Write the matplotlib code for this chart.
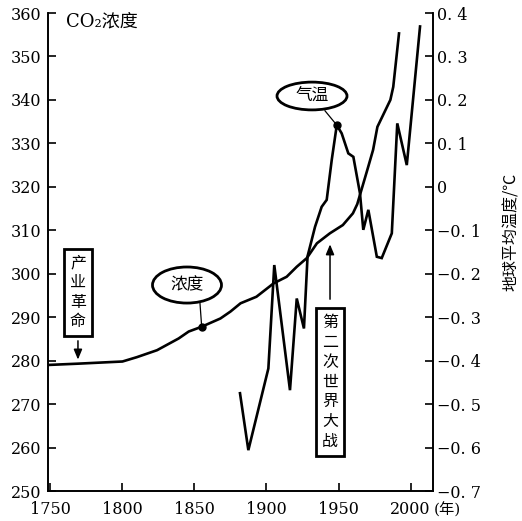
import numpy as np
import matplotlib
matplotlib.use('Agg')
import matplotlib.pyplot as plt
from matplotlib.patches import Ellipse

# CO2 concentration (ppm)
co2_year = [1748, 1769, 1800, 1810, 1824, 1839, 1846, 1855, 1868, 1875, 1882, 1893,
            1905, 1914, 1921, 1928, 1935, 1944, 1953, 1960, 1963, 1970, 1974, 1977,
            1986, 1988, 1992]
co2_ppm = [279.0, 279.3, 279.8, 280.8, 282.4, 285.1, 286.7, 287.8, 289.7, 291.3, 293.2, 294.7,
           297.8, 299.3, 301.6, 303.6, 307.0, 309.3, 311.2, 313.9, 316.0, 323.9, 328.5, 333.8,
           340.0, 343.0, 355.3]

# global mean temperature anomaly (deg C)
temp_year = [1881.6, 1887.4, 1901.3, 1905.4, 1916.3, 1921.0, 1926.0, 1928.5, 1933.7, 1938.3,
             1941.8, 1945.3, 1948.8, 1952.2, 1956.8, 1960.3, 1964.9, 1967.2, 1970.7, 1976.6,
             1980.0, 1987.0, 1990.8, 1997.4, 2006.6]
temp_c = [-0.475, -0.606, -0.418, -0.18, -0.468, -0.257, -0.326, -0.16, -0.092, -0.046,
          -0.03, 0.062, 0.142, 0.123, 0.077, 0.069, -0.015, -0.099, -0.053, -0.161,
          -0.164, -0.107, 0.146, 0.05, 0.369]

x_ticks = [1750, 1800, 1850, 1900, 1950, 2000]
co2_ticks = list(range(250, 361, 10))
temp_ticks = [-0.7, -0.6, -0.5, -0.4, -0.3, -0.2, -0.1, 0.0, 0.1, 0.2, 0.3, 0.4]

NUM_FONT = 'DejaVu Serif'
CJK = ['DejaVu Serif', 'Noto Sans CJK SC']


def temp_label(v):
    if abs(v) < 1e-9:
        return '0'
    s = f'{abs(v):.1f}'.replace('.', '. ')
    return ('\u2212' if v < 0 else '') + s


fig = plt.figure(figsize=(5.22, 5.21), dpi=100)
ax = fig.add_axes([48 / 522, 1 - 491 / 521, (433 - 48) / 522, (491 - 13) / 521])
ax2 = ax.twinx()

lw = 1.9
ax.plot(co2_year, co2_ppm, color='k', lw=lw, solid_joinstyle='round')
ax2.plot(temp_year, temp_c, color='k', lw=lw, solid_joinstyle='miter')

ax.set_xlim(1748.3, 2015.6)
ax.set_ylim(250, 360)
ax2.set_ylim(-0.7, 0.4)

for a in (ax, ax2):
    a.spines['top'].set_visible(False)
    for s in ('left', 'right', 'bottom'):
        a.spines[s].set_linewidth(1.2)

ax.set_xticks(x_ticks)
ax.set_yticks(co2_ticks)
ax2.set_yticks(temp_ticks)
ax2.set_yticklabels([temp_label(v) for v in temp_ticks])
ax.tick_params(axis='both', direction='in', length=6, width=1.2, labelsize=11.5)
ax.tick_params(axis='y', pad=5)
ax.tick_params(axis='x', pad=7)
ax2.tick_params(axis='y', direction='in', length=6, width=1.2, labelsize=11.5, pad=3)
for lab in ax.get_xticklabels() + ax.get_yticklabels() + ax2.get_yticklabels():
    lab.set_fontfamily(NUM_FONT)

# dots on the curves
ax.plot([1855], [287.8], 'o', color='k', ms=5)
ax2.plot([1948.8], [0.142], 'o', color='k', ms=5)

# axis captions
ax.text(1761, 358, 'CO\u2082浓度', family=CJK, fontsize=13, ha='left', va='center')
fig.text(434 / 522, 1 - 510 / 521, '(年)', family=CJK, fontsize=11,
         ha='left', va='center')
fig.text(511 / 522, 1 - 232 / 521, '地球平均温度/℃', family=['Noto Sans CJK SC', 'DejaVu Sans'],
         fontsize=11.5, rotation=90, ha='center', va='center')

box = dict(boxstyle='square,pad=0.35', fc='white', ec='k', lw=2)

# 产业革命 box with arrow
ax.text(1769.1, 295.7, '\n'.join('产业革命'), family=['Noto Sans CJK SC'], fontsize=11.5,
        ha='center', va='center', linespacing=1.2, bbox=box)
ax.annotate('', xy=(1769.1, 279.6), xytext=(1769.1, 285.2),
            arrowprops=dict(arrowstyle='-|>,head_length=0.6,head_width=0.25', color='k',
                            lw=1.1, mutation_scale=10))

# 第二次世界大战 box with arrow
ax.text(1944.1, 275.1, '\n'.join('第二次世界大战'), family=['Noto Sans CJK SC'], fontsize=11.5,
        ha='center', va='center', linespacing=1.22, bbox=box)
ax.annotate('', xy=(1944.1, 307.4), xytext=(1944.1, 293.5),
            arrowprops=dict(arrowstyle='-|>,head_length=0.6,head_width=0.25', color='k',
                            lw=1.1, mutation_scale=10))

# 浓度 ellipse
ax.add_patch(Ellipse((1844.8, 297.4), 47.9, 8.3, fc='white', ec='k', lw=2, zorder=3))
ax.text(1844.8, 297.4, '浓度', family=['Noto Sans CJK SC'], fontsize=12,
        ha='center', va='center', zorder=4)
ax.plot([1853.8, 1855], [293.3, 287.8], color='k', lw=0.9)

# 气温 ellipse
ax.add_patch(Ellipse((1931.6, 340.9), 48.6, 6.4, fc='white', ec='k', lw=2, zorder=3))
ax.text(1931.6, 340.9, '气温', family=['Noto Sans CJK SC'], fontsize=12,
        ha='center', va='center', zorder=4)
ax.plot([1940.6, 1948.8], [337.5, 334.2], color='k', lw=0.9)

fig.savefig('out.png', dpi=100)
